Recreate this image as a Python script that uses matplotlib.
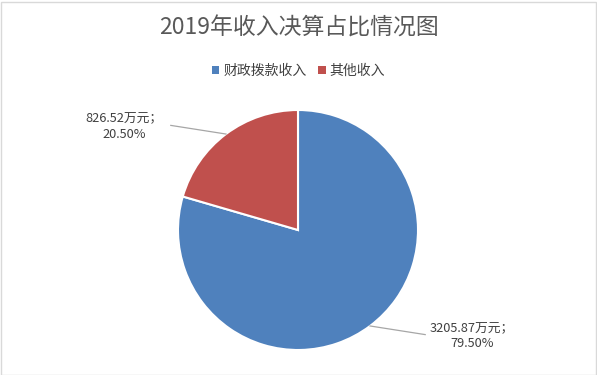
import numpy as np
import matplotlib
matplotlib.use("Agg")
import matplotlib.pyplot as plt
from matplotlib.patches import Patch, Rectangle

plt.rcParams['font.family'] = ['Noto Sans CJK SC', 'DejaVu Sans']

title = "2019年收入决算占比情况图"
categories = ["财政拨款收入", "其他收入"]
amounts = [3205.87, 826.52]          # 万元
percents = ["79.50%", "20.50%"]
colors = ["#4F81BD", "#C0504D"]

W, H = 597, 375
fig = plt.figure(figsize=(W / 100, H / 100), dpi=100)

# pie centre at (298, 230) px, radius 120 px
r_px = 120.0
cx, cy = 298.0, H - 230.0
xr = (-2.4, 2.4)
yr = (-1.15, 1.2)
ax = fig.add_axes([(cx + xr[0] * r_px) / W, (cy + yr[0] * r_px) / H,
                   (xr[1] - xr[0]) * r_px / W, (yr[1] - yr[0]) * r_px / H])

wedges, _ = ax.pie(amounts, colors=colors, startangle=90, counterclock=False,
                   radius=1.0, wedgeprops=dict(edgecolor="white", linewidth=1.5))
ax.set_xlim(*xr)
ax.set_ylim(*yr)
ax.set_aspect("auto")
ax.axis("off")

# data labels with leader lines
for w, amt, pct in zip(wedges, amounts, percents):
    mid = np.deg2rad((w.theta1 + w.theta2) / 2.0)
    ex, ey = np.cos(mid), np.sin(mid)
    sx = np.sign(ex)
    lx, ly = sx * 1.06, ey * 1.09
    ax.plot([ex, lx], [ey, ly], color="#a6a6a6", lw=0.9)
    ax.text(sx * 1.45, ly - 0.01, "%.2f万元；\n%s" % (amt, pct), ha="center", va="center",
            fontsize=9.2, color="#404040", linespacing=1.2)

fig.text(0.5, 1 - 28.0 / H, title, ha="center", va="center",
         fontsize=16.5, color="#595959")

handles = [Patch(facecolor=c, edgecolor="none") for c in colors]
fig.legend(handles, categories, loc="center", bbox_to_anchor=(0.5, 1 - 71.0 / H),
           ncol=2, frameon=False, fontsize=10, handlelength=0.55, handleheight=0.55,
           handletextpad=0.3, columnspacing=0.8, labelcolor="#404040")

fig.patches.append(Rectangle((0.5 / W, 0.5 / H), 1 - 2.0 / W, 1 - 2.0 / H,
                             transform=fig.transFigure, fill=False,
                             edgecolor="#d9d9d9", lw=1))

fig.savefig("out.png", dpi=100)
